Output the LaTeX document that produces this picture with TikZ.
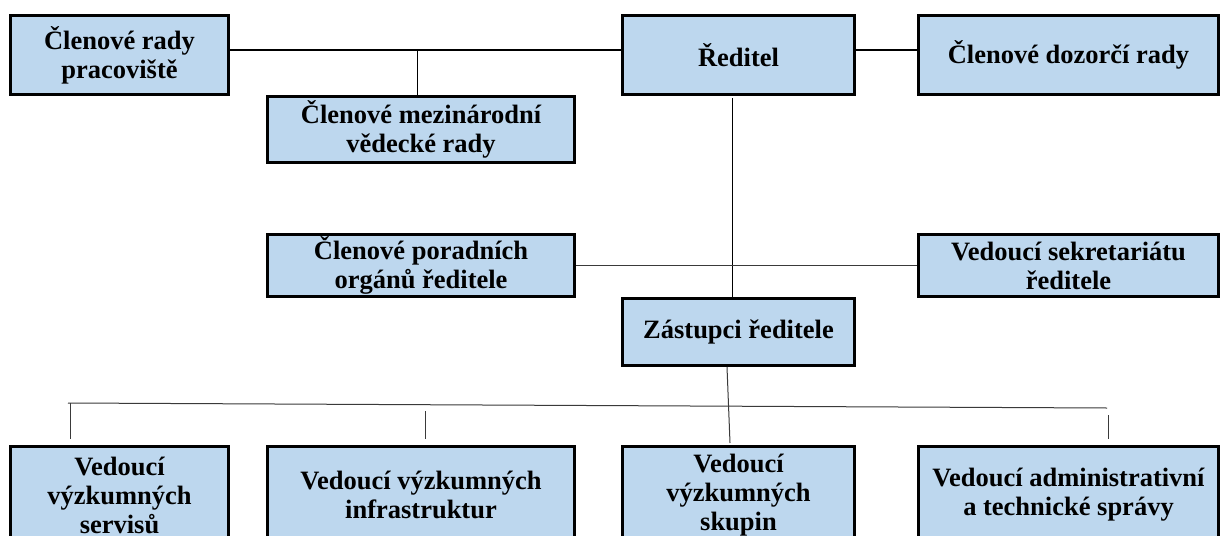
\documentclass[tikz,border=0pt]{standalone}
\usepackage{fontspec}
\setmainfont{Liberation Serif}
\usepackage{xcolor}
\usepackage{tikz}
\usetikzlibrary{positioning,calc}
\definecolor{modra}{HTML}{BDD7EE}
\definecolor{seda}{HTML}{3A3A3A}
\tikzset{
    blok/.style={
        rectangle,
        draw,
        line width=2.6pt,
        fill=modra,
        align=center,
        inner sep=0pt,
        font=\bfseries\fontsize{26.5}{29}\selectfont
    },
    horni/.style={blok, minimum height=79.4pt},
    dolni/.style={blok, minimum height=97.4pt},
    spoj/.style={line width=2pt},
    tenky/.style={line width=1pt, draw=seda}
}

\begin{document}
\begin{tikzpicture}[x=1pt, y=-1pt]
        \clip (0,0) rectangle (1222,535);
        \fill[white] (0,0) rectangle (1222,535);

        % horní řada
        \node[horni, minimum width=218.4pt] (rady) at (119.5,55)
            {Členové rady\\pracoviště};
        \node[horni, minimum width=232.4pt] (reditel) at (738.5,55)
            {Ředitel};
        \node[horni, minimum width=300.4pt] (dozorci) at (1068.5,55)
            {Členové dozorčí rady};
        \node[blok, minimum width=307.4pt, minimum height=66.4pt] (vedecka) at (421,129.5)
            {Členové mezinárodní\\vědecké rady};

        % prostřední řada
        \node[blok, minimum width=307.4pt, minimum height=62.4pt] (poradni) at (421,265.5)
            {Členové poradních\\orgánů ředitele};
        \node[blok, minimum width=300.4pt, minimum height=62.4pt] (sekretariat) at (1068.5,265.5)
            {Vedoucí sekretariátu\\ředitele};
        \node[blok, minimum width=232.4pt, minimum height=67.4pt] (zastupci) at (738.5,332)
            {Zástupci ředitele};

        % dolní řada
        \node[dolni, minimum width=218.4pt] (servisy) at (119.5,495)
            {Vedoucí\\výzkumných\\servisů};
        \node[dolni, minimum width=307.4pt] (infra) at (421,495)
            {Vedoucí výzkumných\\infrastruktur};
        \node[dolni, minimum width=232.4pt] (skupiny) at (738.5,495)
            {Vedoucí\\výzkumných\\skupin};
        \node[dolni, minimum width=300.4pt] (sprava) at (1068.5,495)
            {Vedoucí administrativní\\a technické správy};

        \coordinate (odbocka) at (417,50);
        \coordinate (sbernaL) at (68,403);
        \coordinate (sbernaR) at (1107,408);
        \coordinate (tickE) at (70,403);
        \coordinate (tickF) at (425,411);
        \coordinate (tickH) at (1108,415);

        \draw[spoj] ([yshift=5pt]rady.east) -- ([yshift=5pt]reditel.west);
        \draw[spoj] ([yshift=5pt]reditel.east) -- ([yshift=5pt]dozorci.west);
        \draw[tenky, draw=black] (odbocka) -- (odbocka |- vedecka.north);
        \draw[tenky, draw=black] ([xshift=-6.5pt, yshift=-2pt]reditel.south) -- ([xshift=-6.5pt]zastupci.north);
        \draw[tenky] (poradni.east) -- (sekretariat.west);
        \draw[tenky] ([xshift=-11.5pt]zastupci.south) -- ([xshift=-8.5pt, yshift=2pt]skupiny.north);
        \draw[tenky] (sbernaL) -- (sbernaR);
        \draw[tenky] (tickE) -- ([yshift=6pt]tickE |- servisy.north);
        \draw[tenky] (tickF) -- ([yshift=6pt]tickF |- infra.north);
        \draw[tenky] (tickH) -- ([yshift=6pt]tickH |- sprava.north);
\end{tikzpicture}
\end{document}
